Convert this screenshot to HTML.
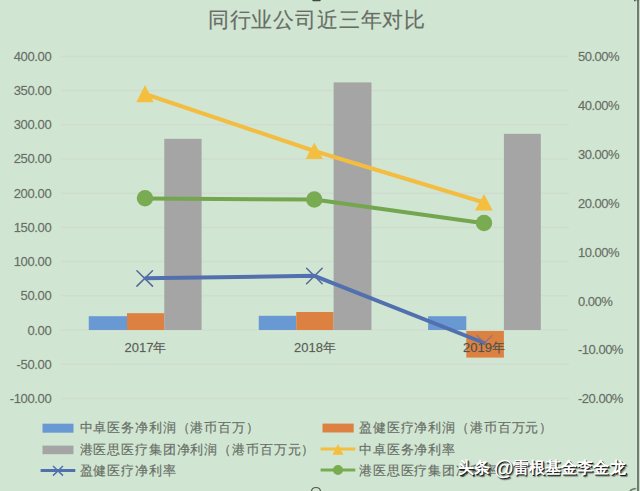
<!DOCTYPE html>
<html><head><meta charset="utf-8">
<style>
html,body{margin:0;padding:0;width:640px;height:491px;overflow:hidden;background:#d1e6d2;}
body{position:relative;font-family:"Liberation Sans",sans-serif;}
.t{position:absolute;white-space:nowrap;color:#676e66;-webkit-text-stroke:0.3px rgba(103,110,102,.6);}
.yl{font-size:13px;text-align:right;width:60px;left:-8.7px;line-height:14px;letter-spacing:-0.35px;}
.yr{font-size:13px;left:578px;line-height:14px;letter-spacing:-0.5px;}
.cat{font-size:13px;line-height:14px;text-align:center;width:80px;}
.wm .t{-webkit-text-stroke:0;}
.lg{font-size:12.8px;line-height:16px;letter-spacing:0.87px;}
</style></head><body>
<svg width="640" height="491" style="position:absolute;left:0;top:0">
  <!-- gridlines -->
  <g stroke="#d0dccf" stroke-width="1.5">
    <line x1="61" y1="56.4" x2="569" y2="56.4"/>
    <line x1="61" y1="90.6" x2="569" y2="90.6"/>
    <line x1="61" y1="124.8" x2="569" y2="124.8"/>
    <line x1="61" y1="159.0" x2="569" y2="159.0"/>
    <line x1="61" y1="193.2" x2="569" y2="193.2"/>
    <line x1="61" y1="227.4" x2="569" y2="227.4"/>
    <line x1="61" y1="261.6" x2="569" y2="261.6"/>
    <line x1="61" y1="295.8" x2="569" y2="295.8"/>
    <line x1="61" y1="330.0" x2="569" y2="330.0"/>
    <line x1="61" y1="364.2" x2="569" y2="364.2"/>
    <line x1="61" y1="398.4" x2="569" y2="398.4"/>
  </g>
  <!-- bars -->
  <g>
    <rect x="88.75" y="316.2" width="38.25" height="13.8" fill="#6899d2"/>
    <rect x="127.00" y="313.2" width="37.25" height="16.8" fill="#dd8142"/>
    <rect x="164.25" y="138.8" width="37.35" height="191.2" fill="#a5a5a5"/>
    <rect x="258.75" y="315.8" width="37.50" height="14.2" fill="#6899d2"/>
    <rect x="296.25" y="312.0" width="37.35" height="18.0" fill="#dd8142"/>
    <rect x="333.60" y="82.4" width="37.90" height="247.6" fill="#a5a5a5"/>
    <rect x="428.10" y="316.2" width="38.20" height="13.8" fill="#6899d2"/>
    <rect x="466.30" y="331.0" width="37.60" height="26.6" fill="#dd8142"/>
    <rect x="503.90" y="133.8" width="36.90" height="196.2" fill="#a5a5a5"/>
  </g>
  <!-- lines -->
  <polyline points="145,94 314.3,151 484,202.5" fill="none" stroke="#f2bd40" stroke-width="4" stroke-linejoin="round"/>
  <polygon points="145,85 136.3,102.3 153.6,102.3" fill="#f4be3e"/>
  <polygon points="314.3,142.5 305.7,159 323,159" fill="#f4be3e"/>
  <polygon points="484,194 475,210.5 492.8,210.5" fill="#f4be3e"/>
  <polyline points="145,198.4 314.3,199.6 484,223.3" fill="none" stroke="#74a64f" stroke-width="4" stroke-linejoin="round"/>
  <circle cx="145" cy="198.2" r="8.2" fill="#78ab52"/>
  <circle cx="314.3" cy="199.5" r="8.2" fill="#78ab52"/>
  <circle cx="484" cy="223" r="8.2" fill="#78ab52"/>
  
  
  <g stroke="#56689a" stroke-width="1.5" fill="none" stroke-linecap="round">
    <path d="M136.9,270.7 L152.5,286.1 M152.5,270.7 L136.9,286.1"/>
    <path d="M306.6,268.3 L322.2,283.7 M322.2,268.3 L306.6,283.7"/>
  </g>
  <polyline points="144.7,278.2 314.4,275.8 485.5,343.5" fill="none" stroke="#5270ae" stroke-width="4" stroke-linejoin="round"/>
  <path d="M476.7,335.3 L484.5,343 L492.3,335.3" stroke="#7a6f95" stroke-width="1.3" fill="none" opacity="0.7"/>
  <!-- legend markers -->
  <rect x="42.5" y="423.7" width="31" height="9" fill="#6899d2"/>
  <rect x="42.5" y="445.6" width="31" height="8.6" fill="#a5a5a5"/>
  <line x1="40.6" y1="470.6" x2="75.3" y2="470.6" stroke="#5270ae" stroke-width="3"/>
  <path d="M53,466 L63,475.6 M63,466 L53,475.6" stroke="#5270ae" stroke-width="1.5"/>
  <rect x="322.5" y="423.6" width="31.2" height="8.9" fill="#dd8142"/>
  <line x1="320.6" y1="449" x2="355.3" y2="449" stroke="#f4be3e" stroke-width="3"/>
  <polygon points="338,444 332.5,454.8 343.5,454.8" fill="#f4be3e"/>
  <line x1="320.6" y1="470" x2="355.3" y2="470" stroke="#78ab52" stroke-width="3"/>
  <circle cx="338" cy="470" r="5" fill="#78ab52"/>
  <!-- right border -->
  <path d="M634,0.5 L640,0.5" stroke="#4a584a" stroke-width="1.5"/>
  <path d="M313,0.6 L320,0.6" stroke="#3d4a3d" stroke-width="1.4" stroke-linecap="round"/>
  <path d="M311.5,491 Q312,487.5 316,487.5 Q320,487.5 320.5,491" stroke="#555" stroke-width="1.2" fill="none"/>
  <path d="M630,491 Q632,488.5 637,488.5" stroke="#6a746a" stroke-width="1.5" fill="none"/>
  <rect x="639" y="0" width="1" height="491" fill="#c9d8c9"/>
  <line x1="636.2" y1="0" x2="636.2" y2="491" stroke="#d9e6d9" stroke-width="1"/>
  <line x1="638" y1="0" x2="638" y2="491" stroke="#627265" stroke-width="1.8"/>
</svg>
<div class="t" style="left:207.7px;top:5.5px;font-size:20.5px;letter-spacing:0.85px;line-height:28px;color:#686d66">同行业公司近三年对比</div>
<div class="t yl" style="top:50px">400.00</div>
<div class="t yl" style="top:84px">350.00</div>
<div class="t yl" style="top:118px">300.00</div>
<div class="t yl" style="top:152px">250.00</div>
<div class="t yl" style="top:187px">200.00</div>
<div class="t yl" style="top:221px">150.00</div>
<div class="t yl" style="top:255px">100.00</div>
<div class="t yl" style="top:289px">50.00</div>
<div class="t yl" style="top:324px">0.00</div>
<div class="t yl" style="top:358px">-50.00</div>
<div class="t yl" style="top:392px">-100.00</div>
<div class="t yr" style="top:50px">50.00%</div>
<div class="t yr" style="top:99px">40.00%</div>
<div class="t yr" style="top:148px">30.00%</div>
<div class="t yr" style="top:197px">20.00%</div>
<div class="t yr" style="top:246px">10.00%</div>
<div class="t yr" style="top:295px">0.00%</div>
<div class="t yr" style="top:343px">-10.00%</div>
<div class="t yr" style="top:392px">-20.00%</div>
<div class="t cat" style="left:105.5px;top:341px;color:#555a53">2017年</div>
<div class="t cat" style="left:275px;top:341px;color:#555a53">2018年</div>
<div class="t cat" style="left:444px;top:341px;color:#454a44">2019年</div>
<div class="t lg" style="left:79.5px;top:420px">中卓医务净利润（港币百万）</div>
<div class="t lg" style="left:79.5px;top:442px">港医思医疗集团净利润（港币百万元）</div>
<div class="t lg" style="left:79.5px;top:463px">盈健医疗净利率</div>
<div class="t lg" style="left:359px;top:420px">盈健医疗净利润（港币百万元）</div>
<div class="t lg" style="left:359px;top:442px">中卓医务净利率</div>
<div class="t lg" style="left:359px;top:463px">港医思医疗集团净利率</div>
<div class="wm" style="position:absolute;left:0;top:0;font-size:16px;line-height:22px;font-weight:bold;color:#fff;text-shadow:1px 1px 0 #1e1e1e,1.6px 1.6px 1px rgba(0,0,0,.45)">
<div class="t" style="left:458.2px;top:457px;color:#fff">头</div>
<div class="t" style="left:474.2px;top:457px;color:#fff">条</div>
<div class="t" style="left:493.8px;top:457px;font-size:20px;font-weight:normal;color:#fff">@</div>
<div class="t" style="left:512.7px;top:457px;color:#fff">雷</div>
<div class="t" style="left:529.1px;top:457px;color:#fff">根</div>
<div class="t" style="left:544.6px;top:457px;color:#fff">基</div>
<div class="t" style="left:561.0px;top:457px;color:#fff">金</div>
<div class="t" style="left:577.1px;top:457px;color:#fff">李</div>
<div class="t" style="left:593.2px;top:457px;color:#fff">金</div>
<div class="t" style="left:610.0px;top:457px;color:#fff">龙</div>
</div>
</body></html>
